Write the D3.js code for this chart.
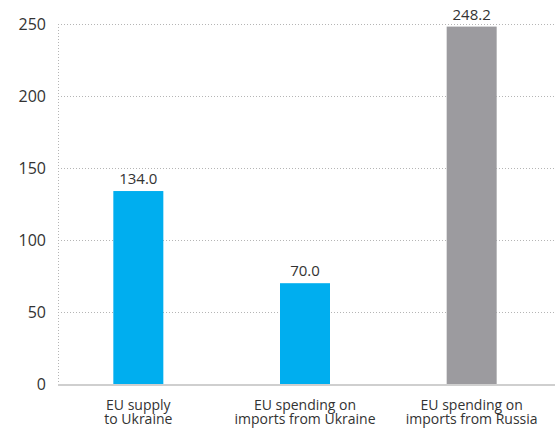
<!DOCTYPE html>
<html>
<head>
<meta charset="utf-8">
<script src="https://cdn.jsdelivr.net/npm/d3@7"></script>
<style>
  html, body { margin: 0; padding: 0; background: #fff; }
  svg { display: block; font-family: "Open Sans", "Noto Sans", sans-serif; }
</style>
</head>
<body>
<svg id="chart" width="555" height="428"></svg>
<script>
// Categories (two-line labels), values and colours
const categories = [
  ["EU supply", "to Ukraine"],
  ["EU spending on", "imports from Ukraine"],
  ["EU spending on", "imports from Russia"]
];
const values = [134.0, 70.0, 248.2];
const barColors = ["#00aeef", "#00aeef", "#9c9b9f"];
const yTicks = [0, 50, 100, 150, 200, 250];

const svg = d3.select("#chart");
const plotLeft = 58, plotRight = 555, plotTop = 24, plotBottom = 384;

const x = d3.scaleBand()
  .domain(d3.range(categories.length))
  .range([55, 555])
  .paddingInner(0.7)
  .paddingOuter(0.35);

const y = d3.scaleLinear().domain([0, 250]).range([plotBottom, plotTop]);

// Dotted horizontal gridlines
svg.append("g")
  .selectAll("line")
  .data(yTicks.filter(d => d > 0))
  .join("line")
  .attr("x1", plotLeft).attr("x2", plotRight)
  .attr("y1", d => y(d) + 0.5).attr("y2", d => y(d) + 0.5)
  .attr("stroke", "#b5b5b5")
  .attr("stroke-width", 1)
  .attr("stroke-dasharray", "1,2");

// Dotted vertical axis line
svg.append("line")
  .attr("x1", plotLeft + 0.5).attr("x2", plotLeft + 0.5)
  .attr("y1", plotTop).attr("y2", plotBottom)
  .attr("stroke", "#b5b5b5")
  .attr("stroke-dasharray", "1,2");

// Y axis tick labels
const yAxis = d3.axisLeft(y).tickValues(yTicks).tickSize(0).tickPadding(0);
const yg = svg.append("g").attr("transform", "translate(46,0)").call(yAxis);
yg.select(".domain").remove();
yg.selectAll("text")
  .attr("font-size", 16)
  .attr("fill", "#333")
  .attr("font-family", "'Open Sans', 'Noto Sans', sans-serif");

// Bars
svg.append("g")
  .selectAll("rect")
  .data(values)
  .join("rect")
  .attr("x", (d, i) => x(i))
  .attr("width", x.bandwidth())
  .attr("y", d => y(d))
  .attr("height", d => y(0) - y(d))
  .attr("fill", (d, i) => barColors[i]);

// Value labels
svg.append("g")
  .selectAll("text")
  .data(values)
  .join("text")
  .attr("x", (d, i) => x(i) + x.bandwidth() / 2)
  .attr("y", d => y(d) - 7)
  .attr("text-anchor", "middle")
  .attr("font-size", 15)
  .attr("fill", "#333")
  .text(d => d3.format(".1f")(d));

// Baseline
svg.append("line")
  .attr("x1", plotLeft).attr("x2", plotRight)
  .attr("y1", y(0) + 1).attr("y2", y(0) + 1)
  .attr("stroke", "#cfcfcf")
  .attr("stroke-width", 2);

// Category labels, one text element per line
const lines = categories.flatMap((c, i) => c.map((t, j) => ({ i, j, t })));
svg.append("g")
  .selectAll("text")
  .data(lines)
  .join("text")
  .attr("x", d => x(d.i) + x.bandwidth() / 2)
  .attr("y", d => 410 + d.j * 14)
  .attr("text-anchor", "middle")
  .attr("font-size", 14)
  .attr("fill", "#333")
  .text(d => d.t);
</script>
</body>
</html>
